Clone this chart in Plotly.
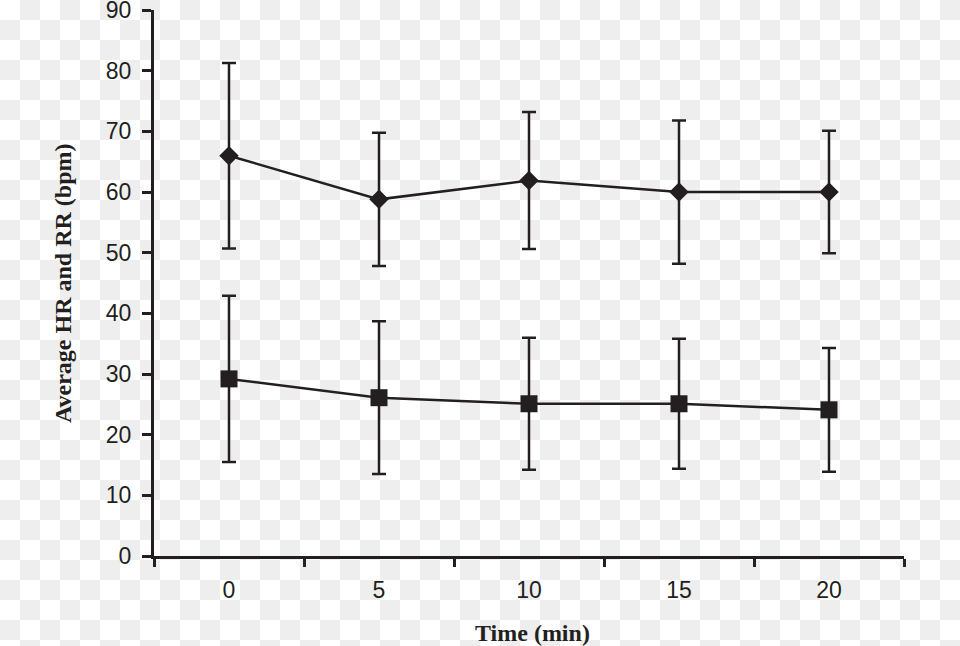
import base64
import plotly.graph_objects as go

# ---- data ----
time_labels = ["0", "5", "10", "15", "20"]
hr_mean = [66.0, 58.8, 61.9, 60.0, 60.0]
hr_sd = [15.3, 11.0, 11.3, 11.8, 10.1]
rr_mean = [29.2, 26.1, 25.1, 25.1, 24.1]
rr_sd = [13.7, 12.6, 10.9, 10.7, 10.2]
y_ticks = [0, 10, 20, 30, 40, 50, 60, 70, 80, 90]

INK = "#231f20"

# checkerboard background (transparent-image style)
svg = (
    '<svg xmlns="http://www.w3.org/2000/svg" width="960" height="646">'
    '<defs><pattern id="c" width="40" height="40" patternUnits="userSpaceOnUse">'
    '<rect width="40" height="40" fill="#ffffff"/>'
    '<rect x="20" y="0" width="20" height="20" fill="#eeeeee"/>'
    '<rect x="0" y="20" width="20" height="20" fill="#eeeeee"/>'
    '</pattern></defs><rect width="960" height="646" fill="url(#c)"/></svg>'
)
bg_uri = "data:image/svg+xml;base64," + base64.b64encode(svg.encode()).decode()

L, R, T, B = 154, 56, 10, 90
W, H = 960, 646
pw, ph = W - L - R, H - T - B

fig = go.Figure()

fig.add_trace(go.Scatter(
    x=time_labels, y=hr_mean, mode="lines+markers",
    line=dict(color=INK, width=2.5),
    marker=dict(symbol="diamond", size=15, color=INK),
    error_y=dict(type="data", array=hr_sd, visible=True, color=INK, thickness=2.5, width=7),
    showlegend=False, cliponaxis=False,
))
fig.add_trace(go.Scatter(
    x=time_labels, y=rr_mean, mode="lines+markers",
    line=dict(color=INK, width=2.5),
    marker=dict(symbol="square", size=17, color=INK),
    error_y=dict(type="data", array=rr_sd, visible=True, color=INK, thickness=2.5, width=7),
    showlegend=False, cliponaxis=False,
))

fig.update_layout(
    width=W, height=H,
    margin=dict(l=L, r=R, t=T, b=B, pad=0, autoexpand=False),
    paper_bgcolor="white",
    plot_bgcolor="rgba(0,0,0,0)",
    font=dict(family="Liberation Sans, Arial, sans-serif", size=23, color=INK),
    images=[dict(
        source=bg_uri, xref="paper", yref="paper",
        x=-L / pw, y=1 + T / ph, sizex=W / pw, sizey=H / ph,
        xanchor="left", yanchor="top", sizing="stretch", layer="below",
    )],
    xaxis=dict(
        type="category", categoryorder="array", categoryarray=time_labels,
        range=[-0.5, 4.5], tickson="boundaries", automargin=False,
        showline=True, linecolor=INK, linewidth=3,
        ticks="outside", ticklen=8, tickwidth=2.5, tickcolor=INK,
        showgrid=False, zeroline=False, ticklabelstandoff=11,
        tickfont=dict(size=23, color=INK),
    ),
    yaxis=dict(
        range=[0, 90.02], tickmode="array", tickvals=y_ticks, automargin=False,
        showline=True, linecolor=INK, linewidth=3,
        ticks="outside", ticklen=9, tickwidth=2.5, tickcolor=INK,
        showgrid=False, zeroline=False, ticklabelstandoff=6,
        ticklabeloverflow="allow",
        tickfont=dict(size=23, color=INK),
    ),
    annotations=[
        dict(text="<b>Time (min)</b>", xref="paper", yref="paper",
             x=(532 - L) / pw, y=(H - B - 633) / ph, xanchor="center", yanchor="middle",
             showarrow=False, font=dict(family="Liberation Serif, Times New Roman, serif", size=24, color=INK)),
        dict(text="<b>Average HR and RR (bpm)</b>", xref="paper", yref="paper",
             x=(63 - L) / pw, y=0.5, xanchor="center", yanchor="middle", textangle=-90,
             showarrow=False, font=dict(family="Liberation Serif, Times New Roman, serif", size=24, color=INK)),
    ],
)

fig.write_html("out.html")
